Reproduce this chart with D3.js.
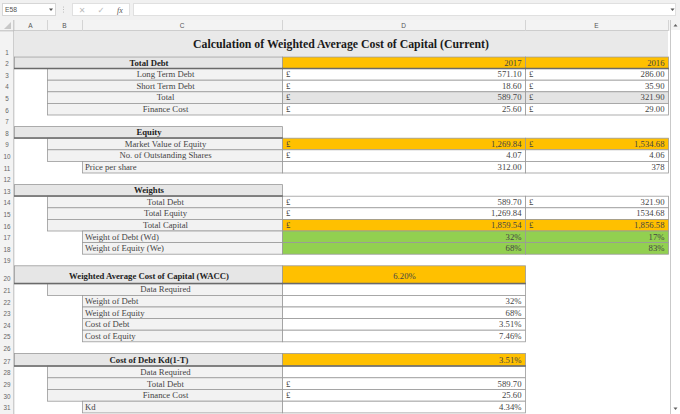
<!DOCTYPE html>
<html>
<head>
<meta charset="utf-8">
<script src="https://cdn.jsdelivr.net/npm/d3@7"></script>
<style>
body{margin:0;background:#fff;overflow:hidden}
svg{display:block}
</style>
</head>
<body>
<svg id="sheet"></svg>
<script>
// ---- sheet content ----
var title = "Calculation of Weighted Average Cost of Capital (Current)";
var cellRef = "E58";
var colLetters = ["A", "B", "C", "D", "E"];
var rowNumbers = d3.range(1, 32);
var years = ["2017", "2016"];

var sectionTitles = {2: "Total Debt", 8: "Equity", 13: "Weights",
    20: "Weighted Average Cost of Capital (WACC)", 27: "Cost of Debt Kd(1-T)"};
var itemLabels = {3: "Long Term Debt", 4: "Short Term Debt", 5: "Total", 6: "Finance Cost",
    9: "Market Value of Equity", 10: "No. of Outstanding Shares",
    14: "Total Debt", 15: "Total Equity", 16: "Total Capital",
    21: "Data Required", 28: "Data Required", 29: "Total Debt", 30: "Finance Cost"};
var subLabels = {11: "Price per share", 17: "Weight of Debt (Wd)", 18: "Weight of Equity (We)",
    22: "Weight of Debt", 23: "Weight of Equity", 24: "Cost of Debt", 25: "Cost of Equity", 31: "Kd"};

var values2017 = {3: "571.10", 4: "18.60", 5: "589.70", 6: "25.60", 9: "1,269.84", 10: "4.07",
    11: "312.00", 14: "589.70", 15: "1,269.84", 16: "1,859.54", 17: "32%", 18: "68%",
    20: "6.20%", 21: "", 22: "32%", 23: "68%", 24: "3.51%", 25: "7.46%",
    27: "3.51%", 28: "", 29: "589.70", 30: "25.60", 31: "4.34%"};
var values2016 = {3: "286.00", 4: "35.90", 5: "321.90", 6: "29.00", 9: "1,534.68", 10: "4.06",
    11: "378", 14: "321.90", 15: "1534.68", 16: "1,856.58", 17: "17%", 18: "83%"};
var pound2017 = [3, 4, 5, 6, 9, 10, 14, 15, 16, 29, 30];
var pound2016 = [3, 4, 5, 6, 9, 14, 16];

// ---- layout ----
var W = 680, H = 414;
var ORANGE = "#ffc000", GREEN = "#92d050", GREY = "#e4e4e4";
var fillD = {2: ORANGE, 5: GREY, 9: ORANGE, 16: ORANGE, 17: GREEN, 18: GREEN, 20: ORANGE, 27: ORANGE};
var fillE = {2: ORANGE, 5: GREY, 9: ORANGE, 16: ORANGE, 17: GREEN, 18: GREEN};

var colLeft = d3.scaleOrdinal().domain(colLetters).range([14, 47, 82, 282, 525]);
var colRight = d3.scaleOrdinal().domain(colLetters).range([47, 82, 282, 525, 668]);

function rowHeight(r) {
    if (r == 1) return 25.5;
    if (r == 20) return 18;
    if (r == 27) return 12.7;
    if (r > 27) return 11.7;
    return 11.6;
}
var tops = [31];
rowNumbers.forEach(function (r, i) { tops.push(tops[i] + rowHeight(r)); });
var rowTop = d3.scaleOrdinal().domain(rowNumbers).range(tops);
var rowBottom = function (r) { return rowTop(r) + rowHeight(r); };

var svg = d3.select("#sheet").attr("width", W).attr("height", H);

// ---- formula bar ----
svg.append("rect").attr("x", 0).attr("y", 0).attr("width", W).attr("height", 20).attr("fill", "#f1f1f1");
svg.append("rect").attr("x", 2.5).attr("y", 3.5).attr("width", 53).attr("height", 12)
    .attr("fill", "#fff").attr("stroke", "#d6d6d6");
svg.append("text").attr("x", 5).attr("y", 12.3).text(cellRef)
    .style("font", "6.8px 'Liberation Sans'").attr("fill", "#555");
svg.append("path").attr("d", "M49,8.5 L53,8.5 L51,11 Z").attr("fill", "#555");
[7, 9.5, 12].forEach(function (y) {
    svg.append("circle").attr("cx", 63.5).attr("cy", y).attr("r", 0.5).attr("fill", "#aaa");
});
svg.append("rect").attr("x", 72.5).attr("y", 3.5).attr("width", 57).attr("height", 12)
    .attr("fill", "#fff").attr("stroke", "#e0e0e0");
svg.append("text").attr("x", 82).attr("y", 12.8).text("\u2715").attr("text-anchor", "middle")
    .style("font", "8px 'DejaVu Sans'").attr("fill", "#bbb");
svg.append("text").attr("x", 101).attr("y", 12.8).text("\u2713").attr("text-anchor", "middle")
    .style("font", "8.5px 'DejaVu Sans'").attr("fill", "#bbb");
svg.append("text").attr("x", 120).attr("y", 12.8).text("fx").attr("text-anchor", "middle")
    .style("font", "italic 8px 'Liberation Serif'").attr("fill", "#555");
svg.append("rect").attr("x", 133.5).attr("y", 3.5).attr("width", 542).attr("height", 12)
    .attr("fill", "#fff").attr("stroke", "#e0e0e0");
svg.append("path").attr("d", "M670.5,8.5 L674.5,8.5 L672.5,11 Z").attr("fill", "#555");

// ---- headers ----
svg.append("rect").attr("x", 0).attr("y", 20).attr("width", W).attr("height", 11).attr("fill", "#f3f3f3");
svg.append("rect").attr("x", 0).attr("y", 31).attr("width", 14).attr("height", H - 31).attr("fill", "#f3f3f3");
svg.append("path").attr("d", "M4,29 L11,29 L11,22 Z").attr("fill", "#c8c8c8");
svg.append("line").attr("x1", 0).attr("x2", 668).attr("y1", 30.8).attr("y2", 30.8).attr("stroke", "#bdbdbd");
svg.append("line").attr("x1", 13.8).attr("x2", 13.8).attr("y1", 20).attr("y2", H).attr("stroke", "#bdbdbd");

svg.selectAll(".colsep").data(colLetters).enter().append("line")
    .attr("class", "colsep")
    .attr("x1", function (d) { return colRight(d) + 0.5; })
    .attr("x2", function (d) { return colRight(d) + 0.5; })
    .attr("y1", 20).attr("y2", 31).attr("stroke", "#d4d4d4");
svg.selectAll(".colhead").data(colLetters).enter().append("text")
    .attr("class", "colhead")
    .attr("x", function (d) { return (colLeft(d) + colRight(d)) / 2; })
    .attr("y", 28.3).attr("text-anchor", "middle")
    .style("font", "6.5px 'Liberation Sans'").attr("fill", "#555")
    .text(function (d) { return d; });
svg.selectAll(".rowhead").data(rowNumbers).enter().append("text")
    .attr("class", "rowhead")
    .attr("x", 7).attr("y", function (d) { return rowBottom(d) - 2; })
    .attr("text-anchor", "middle")
    .style("font", "6.3px 'Liberation Sans'").attr("fill", "#666")
    .text(function (d) { return d; });

// ---- title row ----
svg.append("rect").attr("x", 14).attr("y", rowTop(1)).attr("width", 654).attr("height", rowHeight(1))
    .attr("fill", "#e9e9e9");
svg.append("text").attr("x", 341).attr("y", rowBottom(1) - 8.5).attr("text-anchor", "middle")
    .style("font", "bold 11.8px 'Liberation Serif'").attr("fill", "#1a1a1a").text(title);

// ---- build cells ----
var cells = [];
Object.keys(sectionTitles).forEach(function (k) {
    var r = +k;
    cells.push({row: r, x0: colLeft("A"), x1: colRight("C"), fill: "#e6e6e6", text: sectionTitles[k],
        align: "middle", bold: true, thick: true});
});
Object.keys(itemLabels).forEach(function (k) {
    var r = +k;
    cells.push({row: r, x0: colLeft("B"), x1: colRight("C"), fill: "#f2f2f2", text: itemLabels[k], align: "middle"});
});
Object.keys(subLabels).forEach(function (k) {
    var r = +k;
    cells.push({row: r, x0: colLeft("C"), x1: colRight("C"), fill: "#f2f2f2", text: subLabels[k], align: "start"});
});
cells.push({row: 2, x0: colLeft("D"), x1: colRight("D"), fill: fillD[2], text: years[0], align: "end", thick: true});
cells.push({row: 2, x0: colLeft("E"), x1: colRight("E"), fill: fillE[2], text: years[1], align: "end", thick: true});
Object.keys(values2017).forEach(function (k) {
    var r = +k;
    cells.push({row: r, x0: colLeft("D"), x1: colRight("D"), fill: fillD[r] || "#fff", text: values2017[k],
        align: r == 20 ? "middle" : "end", pound: pound2017.indexOf(r) >= 0, thick: r == 20 || r == 27});
});
Object.keys(values2016).forEach(function (k) {
    var r = +k;
    cells.push({row: r, x0: colLeft("E"), x1: colRight("E"), fill: fillE[r] || "#fff", text: values2016[k],
        align: "end", pound: pound2016.indexOf(r) >= 0});
});

var g = svg.append("g");
g.selectAll(".cell").data(cells).enter().append("rect")
    .attr("class", "cell")
    .attr("x", function (d) { return d.x0 + 0.5; })
    .attr("y", function (d) { return rowTop(d.row) + 0.5; })
    .attr("width", function (d) { return d.x1 - d.x0; })
    .attr("height", function (d) { return rowHeight(d.row); })
    .attr("fill", function (d) { return d.fill; })
    .attr("stroke", "#9a9a9a").attr("stroke-width", 0.8);
g.selectAll(".thick").data(cells.filter(function (d) { return d.thick; })).enter().append("line")
    .attr("class", "thick")
    .attr("x1", function (d) { return d.x0; })
    .attr("x2", function (d) { return d.x1 + 0.8; })
    .attr("y1", function (d) { return rowBottom(d.row) + 0.3; })
    .attr("y2", function (d) { return rowBottom(d.row) + 0.3; })
    .attr("stroke", "#6a6a6a").attr("stroke-width", 1.5);

g.selectAll(".ctext").data(cells).enter().append("text")
    .attr("class", "ctext")
    .attr("x", function (d) {
        if (d.align == "middle") return (d.x0 + d.x1) / 2 + 1;
        if (d.align == "start") return d.x0 + 3;
        return d.x1 - 3.5;
    })
    .attr("y", function (d) { return rowBottom(d.row) - (d.row == 20 ? 4.5 : 2.5); })
    .attr("text-anchor", function (d) { return d.align; })
    .style("font", function (d) { return (d.bold ? "bold " : "") + "8.7px 'Liberation Serif'"; })
    .attr("fill", function (d) { return d.bold ? "#222" : "#444"; })
    .text(function (d) { return d.text; });
g.selectAll(".pound").data(cells.filter(function (d) { return d.pound; })).enter().append("text")
    .attr("class", "pound")
    .attr("x", function (d) { return d.x0 + 4; })
    .attr("y", function (d) { return rowBottom(d.row) - 2.5; })
    .style("font", "8.7px 'Liberation Serif'").attr("fill", "#444")
    .text("\u00a3");

// ---- scrollbar ----
svg.append("rect").attr("x", 670).attr("y", 20).attr("width", 10).attr("height", H - 20).attr("fill", "#fff");
svg.append("line").attr("x1", 670.5).attr("x2", 670.5).attr("y1", 20).attr("y2", H).attr("stroke", "#c9c9c9");
svg.append("rect").attr("x", 671).attr("y", 20).attr("width", 9).attr("height", 10).attr("fill", "#f3f3f3");
svg.append("path").attr("d", "M673.5,26.5 L677.5,26.5 L675.5,24 Z").attr("fill", "#606060");
svg.append("path").attr("d", "M673.5,407.5 L677.5,407.5 L675.5,410 Z").attr("fill", "#606060");
</script>
</body>
</html>
